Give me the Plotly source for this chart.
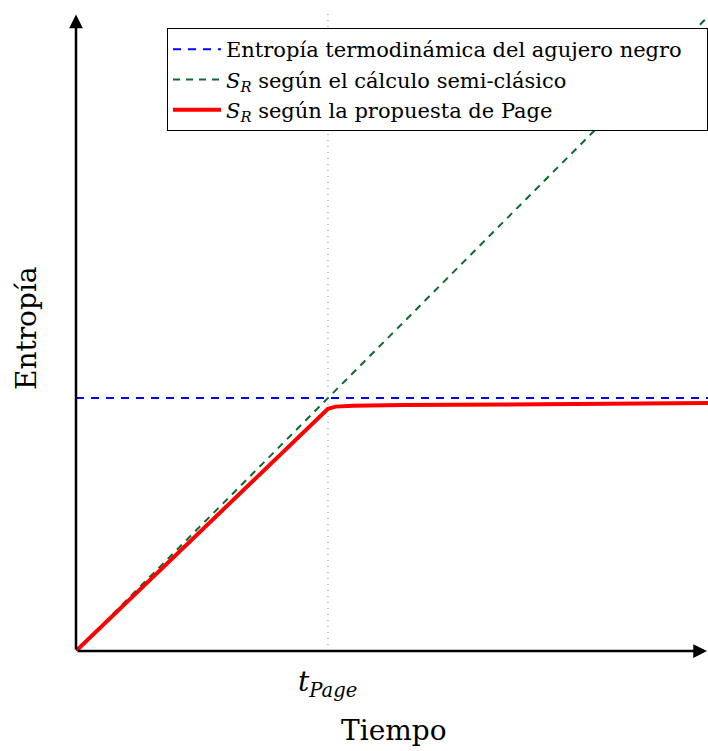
import plotly.graph_objects as go

# --- data (units: time in t_Page, entropy in S_BH) ---
t_page = 1.0
s_bh = 1.0
x_max = 2.508
y_max = 2.518

blue_x = [0, x_max]
blue_y = [s_bh, s_bh]

green_x = [0, 2.51]
green_y = [0, 2.51]

red_x = [0, 1.0, 1.03, 1.1, 1.3, 1.8, 2.51]
red_y = [0, 0.957, 0.966, 0.969, 0.972, 0.976, 0.980]

legend_names = [
    "Entropía termodinámica del agujero negro\u00a0\u00a0\u00a0",
    "<i>S</i><sub><i>R</i></sub> según el cálculo semi-clásico",
    "<i>S</i><sub><i>R</i></sub> según la propuesta de Page",
]

FONT = "DejaVu Serif, Liberation Serif, serif"

fig = go.Figure()

# dotted vertical line at t_Page
fig.add_trace(go.Scatter(x=[t_page, t_page], y=[0, y_max], mode="lines",
                         line=dict(color="#888888", width=1, dash="1px,5px"),
                         showlegend=False, hoverinfo="skip"))

fig.add_trace(go.Scatter(x=blue_x, y=blue_y, mode="lines", name=legend_names[0],
                         line=dict(color="#0000ff", width=2, dash="8px,7px")))
fig.add_trace(go.Scatter(x=green_x, y=green_y, mode="lines", name=legend_names[1],
                         line=dict(color="#0b6a2c", width=2, dash="7px,6px")))
fig.add_trace(go.Scatter(x=red_x, y=red_y, mode="lines", name=legend_names[2],
                         line=dict(color="#ff0000", width=4)))

# axes with arrows
fig.add_annotation(x=x_max - 0.004, y=0, ax=0, ay=0, xref="x", yref="y", axref="x", ayref="y",
                   text="", showarrow=True, arrowhead=2, arrowsize=1.1, arrowwidth=2.5,
                   arrowcolor="black", standoff=0)
fig.add_annotation(x=0, y=y_max - 0.002, ax=0, ay=0, xref="x", yref="y", axref="x", ayref="y",
                   text="", showarrow=True, arrowhead=2, arrowsize=1.1, arrowwidth=2.5,
                   arrowcolor="black", standoff=0)

# labels
fig.add_annotation(x=t_page, y=0, xref="x", yref="y", yshift=-32,
                   text="<i>t</i><sub><i>Page</i></sub>", showarrow=False,
                   xanchor="center", yanchor="middle",
                   font=dict(family=FONT, size=28, color="black"))
fig.add_annotation(x=(394 - 76) / 632, y=-79 / 637, xref="paper", yref="paper",
                   text="Tiempo", showarrow=False, xanchor="center", yanchor="middle",
                   font=dict(family=FONT, size=28, color="black"))
fig.add_annotation(x=(26 - 76) / 632, y=(651 - 328) / 637, xref="paper", yref="paper",
                   text="Entropía", showarrow=False, textangle=-90,
                   xanchor="center", yanchor="middle",
                   font=dict(family=FONT, size=28, color="black"))

fig.update_layout(
    width=708, height=751,
    margin=dict(l=76, r=0, t=14, b=100),
    paper_bgcolor="white", plot_bgcolor="white",
    xaxis=dict(range=[0, x_max], visible=False, fixedrange=True),
    yaxis=dict(range=[0, y_max], visible=False, fixedrange=True),
    showlegend=True,
    legend=dict(x=(167 - 76) / 632, y=(651 - 28) / 637, xanchor="left", yanchor="top",
                bgcolor="white", bordercolor="black", borderwidth=1,
                font=dict(family=FONT, size=21, color="black"),
                itemwidth=48, tracegroupgap=0),
)

fig.write_html(
    "out.html",
    config={"displayModeBar": False},
    post_script="document.body.style.margin='0';document.body.style.overflow='hidden';",
)
